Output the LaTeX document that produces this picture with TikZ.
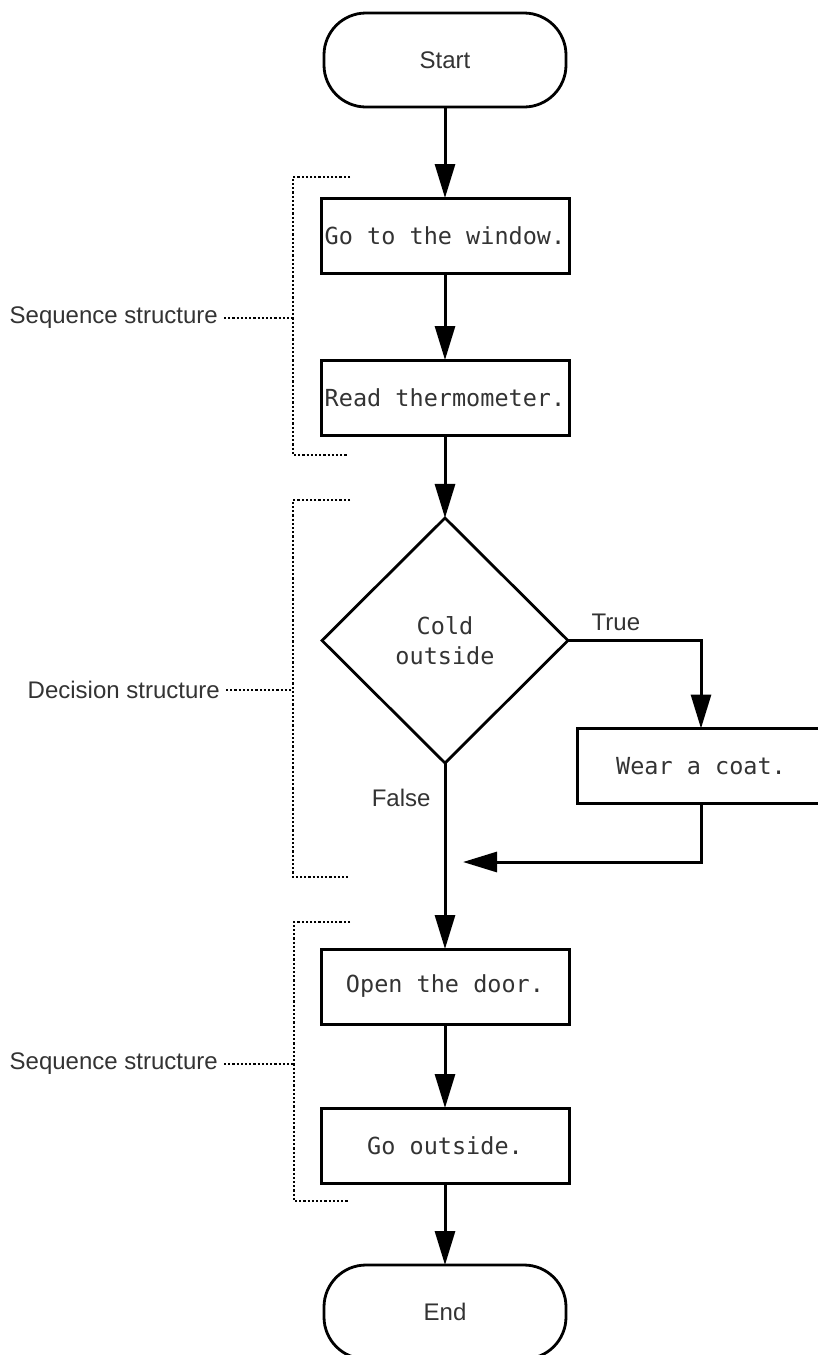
\documentclass[tikz,border=0pt]{standalone}
\usepackage{fontspec}
\setmainfont{Liberation Sans}
\setmonofont{DejaVu Sans Mono}
\usetikzlibrary{positioning,arrows.meta,shapes.geometric}

\begin{document}
\begin{tikzpicture}[
  x=1pt, y=-1pt,
  node distance=85pt,
  >={Triangle[length=34pt,width=20pt]},
  box/.style={draw,line width=3pt,outer sep=0pt,minimum width=248pt,minimum height=75pt,inner sep=2pt,text=black!80,font=\ttfamily\fontsize{23.5}{30}\selectfont},
  term/.style={draw,line width=2.8pt,outer sep=0pt,rounded corners=42pt,minimum width=242pt,minimum height=94pt,text=black!80,font=\fontsize{24}{29}\selectfont},
  decision/.style={draw,diamond,line width=2.8pt,outer sep=0pt,minimum width=246pt,minimum height=245pt,inner sep=0pt,align=center,text=black!80,font=\ttfamily\fontsize{23.5}{30}\selectfont},
  lbl/.style={text=black!80,font=\fontsize{24}{29}\selectfont,inner sep=2pt},
  arrow/.style={->,line width=3pt},
  bracket/.style={line width=2.6pt,dash pattern=on 2.2pt off 2pt}
]
\useasboundingbox (0,0) rectangle (818,1355);

\node[term] (start) at (445,60) {Start};
\node[box,below=91pt of start] (window) {Go to the window.};
\node[box,below=87pt of window] (thermo) {Read thermometer.};
\node[decision,below=83pt of thermo] (cold) {Cold\\outside};
\node[box,anchor=north west,below right=88pt and 9pt of cold.east] (coat) {Wear a coat.};
\node[box,below=186pt of cold] (door) {Open the door.};
\node[box,below=84pt of door] (outside) {Go outside.};
\node[term,below=82pt of outside] (stop) {End};
\coordinate (merge) at (463,862);

\draw[arrow] (start) -- (window);
\draw[arrow] (window) -- (thermo);
\draw[arrow] (thermo) -- (cold);
\draw[arrow] (cold.east) -| node[lbl,pos=0.18,above=6pt]{True} (coat.north);
\draw[arrow] (coat.south) |- (merge);
\draw[arrow] (cold.south) -- node[lbl,pos=0.19,left=11pt]{False} (door.north);
\draw[arrow] (door) -- (outside);
\draw[arrow] (outside) -- (stop);

% structure brackets
\coordinate (b1) at (293,177);
\coordinate (b2) at (293,500);
\coordinate (b3) at (294,922);
\draw[bracket] (350,177) -| (293,455) -- (348,455);
\draw[bracket] (350,500) -| (293,877) -- (350,877);
\draw[bracket] (350,922) -| (294,1201) -- (348,1201);

\node[lbl,anchor=east] (seqA) at (220,318) {Sequence structure};
\node[lbl,anchor=east] (deci) at (222,690) {Decision structure};
\node[lbl,anchor=east] (seqB) at (220,1064) {Sequence structure};
\draw[bracket,shorten <=4pt] (seqA) -- (seqA -| b1);
\draw[bracket,shorten <=4pt] (deci) -- (deci -| b2);
\draw[bracket,shorten <=4pt] (seqB) -- (seqB -| b3);
\end{tikzpicture}
\end{document}
